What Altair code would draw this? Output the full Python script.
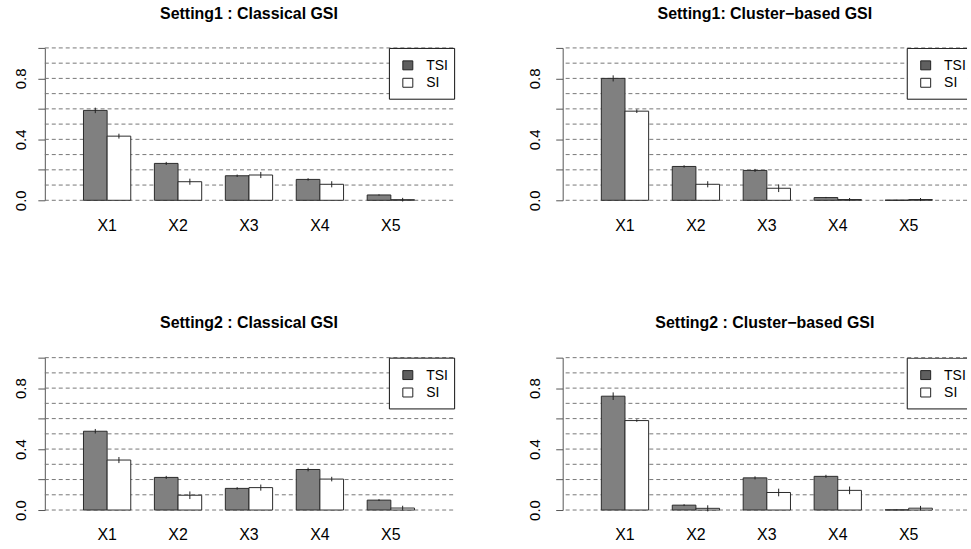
import altair as alt
import pandas as pd

FONT = "Liberation Sans"

variables = ["X1", "X2", "X3", "X4", "X5"]
series = ["TSI", "SI"]
grid_levels = [0.0, 0.1, 0.2, 0.3, 0.4, 0.5, 0.6, 0.7, 0.8, 0.9, 1.0]
y_ticks = [0.0, 0.2, 0.4, 0.6, 0.8, 1.0]

titles = [
    "Setting1 : Classical GSI",
    "Setting1: Cluster\u2212based GSI",
    "Setting2 : Classical GSI",
    "Setting2 : Cluster\u2212based GSI",
]

# Setting 1, classical estimator
s1_classic_tsi = [0.590, 0.242, 0.161, 0.137, 0.035]
s1_classic_si = [0.421, 0.122, 0.166, 0.105, 0.004]
s1_classic_tsi_err = [0.018, 0.010, 0.008, 0.008, 0.004]
s1_classic_si_err = [0.016, 0.020, 0.020, 0.020, 0.012]

# Setting 1, cluster-based estimator
s1_cluster_tsi = [0.800, 0.222, 0.196, 0.018, 0.001]
s1_cluster_si = [0.585, 0.105, 0.079, 0.005, 0.005]
s1_cluster_tsi_err = [0.020, 0.008, 0.010, 0.004, 0.002]
s1_cluster_si_err = [0.012, 0.020, 0.025, 0.010, 0.010]

# Setting 2, classical estimator
s2_classic_tsi = [0.517, 0.214, 0.142, 0.266, 0.065]
s2_classic_si = [0.328, 0.097, 0.147, 0.203, 0.013]
s2_classic_tsi_err = [0.015, 0.010, 0.008, 0.012, 0.006]
s2_classic_si_err = [0.020, 0.025, 0.020, 0.015, 0.015]

# Setting 2, cluster-based estimator
s2_cluster_tsi = [0.747, 0.032, 0.211, 0.221, 0.001]
s2_cluster_si = [0.587, 0.011, 0.115, 0.129, 0.012]
s2_cluster_tsi_err = [0.025, 0.006, 0.010, 0.010, 0.002]
s2_cluster_si_err = [0.008, 0.020, 0.025, 0.025, 0.015]

BAR_FILL = {"TSI": "#808080", "SI": "#ffffff"}
LEGEND_FILL = {"TSI": "#5f5f5f", "SI": "#ffffff"}
BAND_RANGE = 410
HEIGHT = 153


def panel(title, tsi, si, tsi_err, si_err, width, y_label_pad, clip_legend):
    df = pd.DataFrame({
        "variable": variables * 2,
        "index": [series[0]] * len(variables) + [series[1]] * len(variables),
        "value": tsi + si,
        "err": tsi_err + si_err,
    })
    df["lo"] = df["value"] - df["err"]
    df["hi"] = df["value"] + df["err"]

    yscale = alt.Scale(domain=[0, 1], nice=False, zero=True)
    yaxis = alt.Axis(
        title=None, values=y_ticks, grid=False,
        labelExpr="datum.value == 0 || datum.value == 0.4 || datum.value == 0.8 ? format(datum.value, '.1f') : ''",
        labelAngle=270, labelAlign="center", labelBaseline="alphabetic",
        labelPadding=y_label_pad, labelFont=FONT, labelFontSize=15,
        labelColor="black", labelFlush=False, labelOverlap=False,
        domainColor="#555555", tickColor="#555555", tickSize=7,
        domainWidth=1, tickWidth=1,
    )
    xscale = alt.Scale(range=[0, BAND_RANGE], paddingInner=1 / 3, paddingOuter=0.545)
    xaxis = alt.Axis(
        title=None, domain=False, ticks=False, labelAngle=0,
        labelFont=FONT, labelFontSize=16, labelColor="black", labelPadding=17,
    )
    x = alt.X("variable:N", sort=variables, scale=xscale, axis=xaxis)
    xo = alt.XOffset("index:N", sort=series, scale=alt.Scale(paddingInner=0, paddingOuter=0))

    grid = alt.Chart(pd.DataFrame({"level": grid_levels})).mark_rule(
        color="#777777", strokeDash=[4, 3], strokeWidth=1
    ).encode(y=alt.Y("level:Q", scale=yscale, axis=yaxis))

    bars = alt.Chart(df).mark_bar(stroke="#2a2a2a", strokeWidth=1).encode(
        x=x, xOffset=xo,
        y=alt.Y("value:Q", scale=yscale, axis=yaxis),
        fill=alt.Fill("index:N", scale=alt.Scale(domain=series, range=[BAR_FILL[s] for s in series]), legend=None),
    )

    errs = alt.Chart(df).mark_rule(color="#222222", strokeWidth=1).encode(
        x=x, xOffset=xo,
        y=alt.Y("lo:Q", scale=yscale, axis=yaxis),
        y2="hi:Q",
    )

    # legend drawn in the top-right corner of the plot
    box = alt.Chart(pd.DataFrame({"k": [0]})).mark_rect(
        fill="white", stroke="#111111", strokeWidth=1, clip=clip_legend
    ).encode(x=alt.value(346), x2=alt.value(411.5), y=alt.value(0.5), y2=alt.value(51.5))

    layers = [grid, bars, errs, box]
    for i, s in enumerate(series):
        item = pd.DataFrame({"name": [s]})
        cy = 17.5 + 17.5 * i
        layers.append(
            alt.Chart(item).mark_rect(fill=LEGEND_FILL[s], stroke="#222222", strokeWidth=1).encode(
                x=alt.value(359.5), x2=alt.value(369.5), y=alt.value(cy - 4.5), y2=alt.value(cy + 4.5)
            )
        )
        layers.append(
            alt.Chart(item).mark_text(
                align="left", baseline="middle", font=FONT, fontSize=14, color="black"
            ).encode(x=alt.value(383), y=alt.value(cy + 0.5), text="name:N")
        )

    return alt.layer(*layers).properties(
        width=width, height=HEIGHT,
        title=alt.TitleParams(
            text=title, font=FONT, fontSize=16, fontWeight="bold", color="black",
            anchor="middle", frame="group", offset=26,
        ),
    )


p1 = panel(titles[0], s1_classic_tsi, s1_classic_si, s1_classic_tsi_err, s1_classic_si_err, 410, 12, False)
p2 = panel(titles[1], s1_cluster_tsi, s1_cluster_si, s1_cluster_tsi_err, s1_cluster_si_err, 406, 16, True)
p3 = panel(titles[2], s2_classic_tsi, s2_classic_si, s2_classic_tsi_err, s2_classic_si_err, 410, 12, False)
p4 = panel(titles[3], s2_cluster_tsi, s2_cluster_si, s2_cluster_tsi_err, s2_cluster_si_err, 406, 16, True)

top = alt.hconcat(p1, p2, spacing=73)
bottom = alt.hconcat(p3, p4, spacing=73)

chart = alt.vconcat(top, bottom, spacing=82).properties(
    padding={"left": 14, "top": 4, "right": 0, "bottom": 0},
    background="white",
).configure_view(stroke=None)

chart.save("out.html", embed_options={"renderer": "svg", "actions": False})
